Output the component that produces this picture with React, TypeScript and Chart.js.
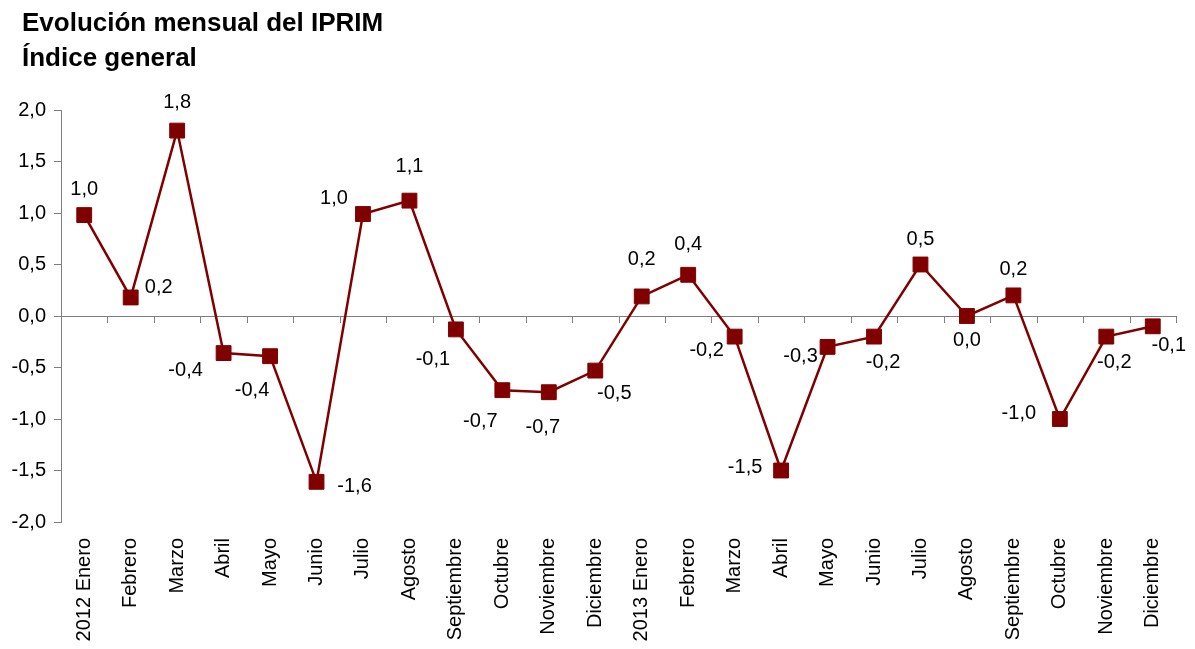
import React, { useEffect, useRef } from "react";
import { Chart, registerables } from "chart.js";

Chart.register(...registerables);

const titleLines = ["Evolución mensual del IPRIM", "Índice general"];

const categories = [
  "2012 Enero", "Febrero", "Marzo", "Abril", "Mayo", "Junio", "Julio", "Agosto",
  "Septiembre", "Octubre", "Noviembre", "Diciembre",
  "2013 Enero", "Febrero", "Marzo", "Abril", "Mayo", "Junio", "Julio", "Agosto",
  "Septiembre", "Octubre", "Noviembre", "Diciembre",
];

const values = [
  0.98, 0.18, 1.8, -0.36, -0.39, -1.61, 0.99, 1.12, -0.13, -0.72, -0.74, -0.53,
  0.19, 0.4, -0.2, -1.5, -0.3, -0.2, 0.5, 0.0, 0.2, -1.0, -0.2, -0.1,
];

const valueLabels = [
  "1,0", "0,2", "1,8", "-0,4", "-0,4", "-1,6", "1,0", "1,1", "-0,1", "-0,7", "-0,7", "-0,5",
  "0,2", "0,4", "-0,2", "-1,5", "-0,3", "-0,2", "0,5", "0,0", "0,2", "-1,0", "-0,2", "-0,1",
];

const yTickMin = -2;
const yTickMax = 2;
const yTickStep = 0.5;

// label offsets relative to each point (layout only)
const labelOffsets: [number, number][] = [
  [0, -26], [28, -10], [0, -28], [-38, 17], [-18, 34], [38, 5], [-29, -16], [0, -34],
  [-23, 30], [-22, 31], [-6, 35], [19, 23], [0, -37], [0, -30], [-28, 14], [-36, -3],
  [-27, 10], [9, 26], [0, -25], [0, 24], [0, -26], [-41, -6], [8, 26], [16, 19],
];

const LINE_COLOR = "#800000";
const AXIS_COLOR = "#7f7f7f";
const FONT = "Arial, 'Liberation Sans', sans-serif";

const zeroAxisPlugin = {
  id: "zeroAxis",
  beforeDatasetsDraw(chart: any) {
    const { ctx, chartArea, scales } = chart;
    const y0 = scales.y.getPixelForValue(0);
    const n = categories.length;
    const w = (chartArea.right - chartArea.left) / n;
    ctx.save();
    ctx.strokeStyle = AXIS_COLOR;
    ctx.lineWidth = 1;
    ctx.beginPath();
    ctx.moveTo(chartArea.left, Math.round(y0) + 0.5);
    ctx.lineTo(chartArea.right, Math.round(y0) + 0.5);
    for (let i = 0; i <= n; i++) {
      const x = Math.round(chartArea.left + i * w) + 0.5;
      ctx.moveTo(x, Math.round(y0));
      ctx.lineTo(x, Math.round(y0) + 7);
    }
    ctx.stroke();
    ctx.restore();
  },
};

const valueLabelPlugin = {
  id: "valueLabels",
  afterDatasetsDraw(chart: any) {
    const { ctx } = chart;
    const meta = chart.getDatasetMeta(0);
    ctx.save();
    ctx.fillStyle = "#000";
    ctx.font = `20px ${FONT}`;
    ctx.textAlign = "center";
    ctx.textBaseline = "middle";
    meta.data.forEach((pt: any, i: number) => {
      const [dx, dy] = labelOffsets[i];
      ctx.fillText(valueLabels[i], pt.x + dx, pt.y + dy);
    });
    ctx.restore();
  },
};

const titlePlugin = {
  id: "customTitle",
  afterDraw(chart: any) {
    const { ctx } = chart;
    ctx.save();
    ctx.fillStyle = "#000";
    ctx.font = `bold 26px ${FONT}`;
    ctx.textAlign = "left";
    ctx.textBaseline = "alphabetic";
    ctx.fillText(titleLines[0], 22, 31);
    ctx.fillText(titleLines[1], 22, 66);
    ctx.restore();
  },
};

export default function App() {
  const canvasRef = useRef<HTMLCanvasElement | null>(null);

  useEffect(() => {
    if (!canvasRef.current) return;
    const chart = new Chart(canvasRef.current, {
      type: "line",
      data: {
        labels: categories,
        datasets: [
          {
            data: values,
            borderColor: LINE_COLOR,
            borderWidth: 2.5,
            backgroundColor: LINE_COLOR,
            pointStyle: "rect",
            pointRadius: 10.5,
            pointHoverRadius: 10.5,
            pointBackgroundColor: LINE_COLOR,
            pointBorderColor: LINE_COLOR,
            pointBorderWidth: 1,
            tension: 0,
          },
        ],
      },
      options: {
        responsive: false,
        animation: false,
        layout: { padding: { top: 110, right: 19, left: 0, bottom: 0 } },
        plugins: {
          legend: { display: false },
          title: { display: false },
          tooltip: { enabled: false },
        },
        scales: {
          x: {
            type: "category",
            offset: true,
            grid: { display: false, drawTicks: false },
            border: { display: false },
            ticks: {
              autoSkip: false,
              minRotation: 90,
              maxRotation: 90,
              padding: 16,
              color: "#000",
              font: { family: FONT, size: 20 },
            },
            afterFit: (s: any) => {
              s.height = 127;
            },
          },
          y: {
            min: yTickMin,
            max: yTickMax,
            ticks: {
              stepSize: yTickStep,
              padding: 8,
              color: "#000",
              font: { family: FONT, size: 20 },
              callback: (v: any) => Math.abs(Number(v)) < 1e-9 ? "0,0" : Number(v).toFixed(1).replace(".", ","),
            },
            grid: {
              drawOnChartArea: false,
              tickLength: 7,
              color: AXIS_COLOR,
            },
            border: { display: true, color: AXIS_COLOR, width: 1 },
            afterFit: (s: any) => {
              s.width = 61;
            },
          },
        },
      },
      plugins: [zeroAxisPlugin, valueLabelPlugin, titlePlugin],
    });
    return () => chart.destroy();
  }, []);

  return (
    <div style={{ position: "fixed", left: 0, top: 0, width: 1195, height: 649, background: "#fff" }}>
      <canvas ref={canvasRef} width={1195} height={649} style={{ display: "block" }} />
    </div>
  );
}
